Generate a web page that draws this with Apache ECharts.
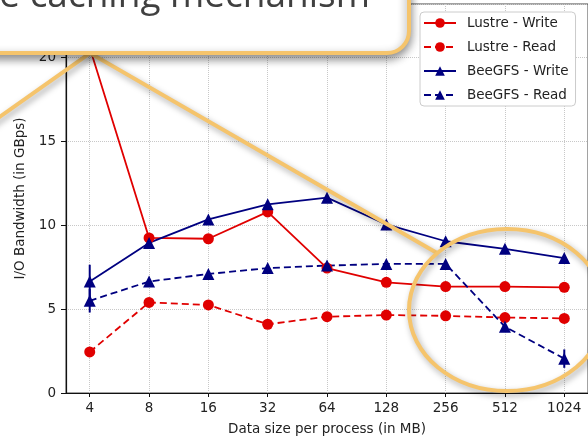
<!DOCTYPE html>
<html>
<head>
<meta charset="utf-8">
<script src="https://cdn.jsdelivr.net/npm/echarts@6/dist/echarts.min.js"></script>
<style>
  html, body { margin: 0; padding: 0; background: #fff; }
  #chart { width: 588px; height: 441px; }
</style>
</head>
<body>
<div id="chart"></div>
<script>
// Data size per process (MB), plotted on a log2 axis
const sizes = [4, 8, 16, 32, 64, 128, 256, 512, 1024];
const seriesNames = ['Lustre - Write', 'Lustre - Read', 'BeeGFS - Write', 'BeeGFS - Read'];

// I/O bandwidth in GBps
const lustreWrite = [20.6, 9.25, 9.2, 10.8, 7.45, 6.6, 6.35, 6.35, 6.3];
const lustreRead  = [2.45, 5.4, 5.25, 4.1, 4.55, 4.65, 4.6, 4.5, 4.45];
const beegfsWrite = [6.65, 8.95, 10.35, 11.25, 11.65, 10.05, 9.05, 8.6, 8.05];
const beegfsRead  = [5.5, 6.65, 7.1, 7.45, 7.6, 7.7, 7.7, 3.95, 2.05];

// Standard deviation (error bars)
const beegfsWriteErr = [1.0, 0, 0, 0, 0, 0, 0, 0, 0];
const beegfsReadErr  = [0.7, 0, 0, 0, 0, 0, 0, 0, 0.55];

const yTicks = [0, 5, 10, 15, 20];

const RED = '#e00000';
const NAVY = '#000080';
const GOLD = '#f5c46c';
const FONT = 'DejaVu Sans';

const xPos = sizes.map(s => Math.log2(s));
const toPairs = vals => vals.map((v, i) => [xPos[i], v]);

function errorBars(vals, errs, color) {
  const data = vals.map((v, i) => [xPos[i], v, errs[i]]).filter(d => d[2] > 0);
  return {
    type: 'custom',
    z: 3,
    silent: true,
    data: data,
    renderItem: function (params, api) {
      const x = api.value(0), y = api.value(1), e = api.value(2);
      const lo = api.coord([x, y - e]);
      const hi = api.coord([x, y + e]);
      return {
        type: 'line',
        shape: { x1: lo[0], y1: lo[1], x2: hi[0], y2: hi[1] },
        style: { stroke: color, lineWidth: 2 }
      };
    }
  };
}

function lineSeries(name, vals, color, dashed, symbol, size) {
  return {
    name: name,
    type: 'line',
    data: toPairs(vals),
    symbol: symbol,
    symbolSize: size,
    showAllSymbol: true,
    z: 4,
    lineStyle: { color: color, width: 1.8, type: dashed ? [7, 4] : 'solid' },
    itemStyle: { color: color, borderWidth: 0 },
    emphasis: { disabled: true }
  };
}

const chart = echarts.init(document.getElementById('chart'), null, { renderer: 'canvas' });

chart.setOption({
  animation: false,
  backgroundColor: '#ffffff',
  grid: {
    left: 66, right: 0, top: 4, bottom: 45,
    show: true, borderColor: '#444', borderWidth: 1, backgroundColor: 'transparent'
  },
  legend: {
    data: seriesNames,
    orient: 'vertical',
    left: 420, top: 12,
    itemWidth: 32, itemHeight: 12, itemGap: 10,
    padding: [4, 7, 4, 3],
    backgroundColor: '#ffffff',
    borderColor: '#cccccc', borderWidth: 1, borderRadius: 4,
    textStyle: { fontFamily: FONT, fontSize: 13.5, color: '#222', padding: [0, 0, 0, 6] },
    selectedMode: false
  },
  xAxis: {
    type: 'value',
    min: 1.6, max: 10.4,
    name: 'Data size per process (in MB)',
    nameLocation: 'middle', nameGap: 29,
    nameTextStyle: { fontFamily: FONT, fontSize: 13.5, color: '#222' },
    axisLine: { onZero: false, lineStyle: { color: '#111', width: 1.2 } },
    axisTick: { show: true, customValues: xPos, length: 4, inside: false, lineStyle: { color: '#111' } },
    axisLabel: {
      customValues: xPos, margin: 8,
      fontFamily: FONT, fontSize: 13.5, color: '#222',
      formatter: v => String(Math.round(Math.pow(2, v)))
    },
    splitLine: { show: true, lineStyle: { color: '#c8c8c8', type: 'dotted', width: 1 } }
  },
  yAxis: {
    type: 'value',
    min: 0, max: 23.2, interval: 5,
    name: 'I/O Bandwidth (in GBps)',
    nameLocation: 'middle', nameGap: 37,
    nameTextStyle: { fontFamily: FONT, fontSize: 13.5, color: '#222' },
    axisLine: { show: true, lineStyle: { color: '#111', width: 1.2 } },
    axisTick: { show: true, length: 5, lineStyle: { color: '#111' } },
    axisLabel: {
      margin: 10, fontFamily: FONT, fontSize: 13.5, color: '#222',
      formatter: v => (yTicks.indexOf(v) >= 0 ? String(v) : '')
    },
    splitLine: { show: true, lineStyle: { color: '#c8c8c8', type: 'dotted', width: 1 } }
  },
  series: [
    lineSeries(seriesNames[0], lustreWrite, RED, false, 'circle', 11),
    lineSeries(seriesNames[1], lustreRead, RED, true, 'circle', 11),
    lineSeries(seriesNames[2], beegfsWrite, NAVY, false, 'triangle', 12),
    lineSeries(seriesNames[3], beegfsRead, NAVY, true, 'triangle', 12),
    errorBars(beegfsWrite, beegfsWriteErr, NAVY),
    errorBars(beegfsRead, beegfsReadErr, NAVY)
  ],
  graphic: [
    {
      // pointer lines of the callout
      type: 'polyline', z: 100,
      shape: { points: [[-60, 159], [90, 53], [437, 253]] },
      style: {
        fill: null, stroke: GOLD, lineWidth: 4,
        shadowBlur: 6, shadowColor: 'rgba(0,0,0,0.35)', shadowOffsetX: 2, shadowOffsetY: 3
      }
    },
    {
      // highlight ellipse around the large-size region
      type: 'ellipse', z: 100,
      shape: { cx: 507, cy: 310, rx: 98, ry: 81 },
      style: {
        fill: null, stroke: GOLD, lineWidth: 4,
        shadowBlur: 6, shadowColor: 'rgba(0,0,0,0.35)', shadowOffsetX: 2, shadowOffsetY: 3
      }
    },
    {
      // callout box
      type: 'rect', z: 101,
      shape: { x: -40, y: -60, width: 449, height: 113, r: 22 },
      style: {
        fill: '#ffffff', stroke: GOLD, lineWidth: 4,
        shadowBlur: 10, shadowColor: 'rgba(0,0,0,0.45)', shadowOffsetY: 4
      }
    },
    {
      type: 'text', z: 102,
      style: {
        text: 'the caching mechanism',
        x: 370, y: -22,
        font: '37px "Open Sans"',
        fill: '#404040',
        textAlign: 'right'
      }
    }
  ]
});
</script>
</body>
</html>
